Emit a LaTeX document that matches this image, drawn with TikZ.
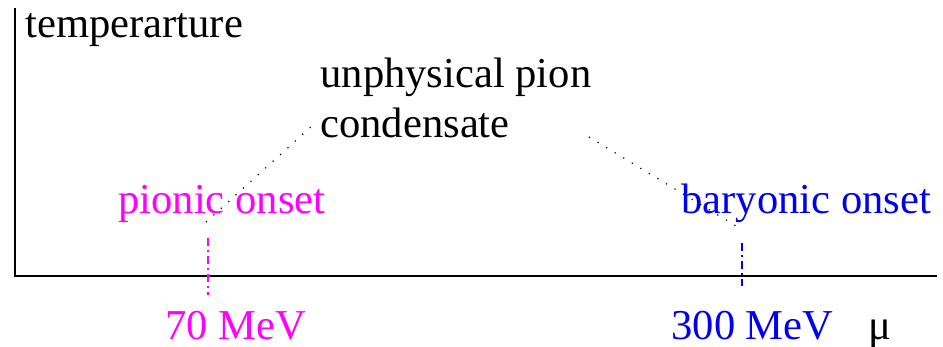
\documentclass[tikz,border=0pt]{standalone}
\usepackage{fontspec}
\setmainfont{Liberation Serif}
\usepackage{xcolor}
\definecolor{pmagenta}{RGB}{255,0,255}
\definecolor{pblue}{RGB}{0,0,240}
\usetikzlibrary{positioning}
\begin{document}
\begin{tikzpicture}[
  x=0.5pt, y=-0.5pt,
  lbl/.style={inner sep=0pt, anchor=base west, font=\fontsize{21.3}{25}\selectfont},
  axis/.style={line width=1pt, black},
  onsetline/.style={line width=0.8pt, dash pattern=on 4pt off 2pt on 1pt off 2pt},
  guide/.style={line width=0.6pt, dash pattern=on 0.6pt off 4.4pt, black}
]
  \useasboundingbox (0,0) rectangle (943,347);
  % Axes
  \coordinate (origin) at (15,276);
  \coordinate (ytop) at (15,8);
  \coordinate (xend) at (937,276);
  \draw[axis] (ytop) -- (origin) -- (xend);
  % Axis labels
  \node[lbl] (temp) at (25,38) {temperarture};
  \node[lbl] (mu) at (868,340) {μ};
  % Middle region label
  \node[lbl] (unphys) at (320,88) {unphysical pion};
  \node[lbl] (cond) at (320,138) {condensate};
  % Onsets
  \node[lbl, text=pmagenta] (pion) at (118,214) {pionic onset};
  \node[lbl, text=pblue] (bary) at (681,214) {baryonic onset};
  \node[lbl, text=pmagenta] (mev70) at (165,340) {70 MeV};
  \node[lbl, text=pblue] (mev300) at (671,340) {300 MeV};
  % Onset ticks
  \coordinate (p1) at (208,238);
  \coordinate (p2) at (208,295);
  \coordinate (b1) at (742,243);
  \coordinate (b2) at (742,286);
  \draw[onsetline, pmagenta] (p1) -- (p2);
  \draw[onsetline, pblue] (b1) -- (b2);
  % Guide lines to the condensate label
  \coordinate (gl1) at (206,222);
  \coordinate (gl2) at (313,125);
  \coordinate (gr1) at (589,137);
  \coordinate (gr2) at (736,226);
  \draw[guide] (gl1) -- (gl2);
  \draw[guide] (gr1) -- (gr2);
\end{tikzpicture}
\end{document}
